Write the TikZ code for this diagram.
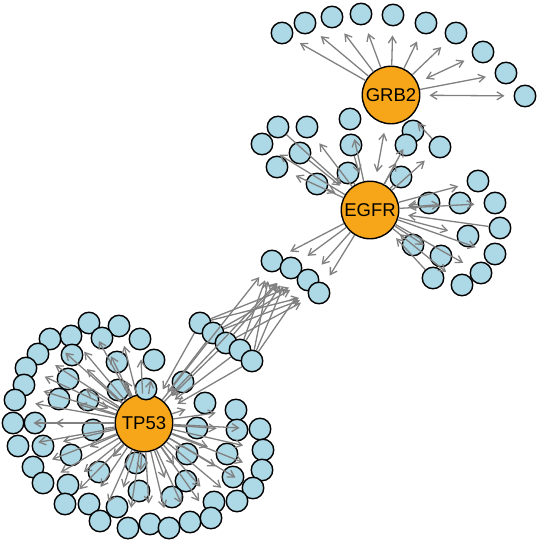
\documentclass[tikz,border=0pt]{standalone}
\usepackage{fontspec}
\setmainfont{Liberation Sans}
\usetikzlibrary{arrows.meta}
\definecolor{leafblue}{RGB}{173,216,230}
\definecolor{hubor}{RGB}{247,166,26}
\definecolor{edgegray}{RGB}{128,128,128}
\begin{document}
\begin{tikzpicture}[x=1pt,y=-1pt,
  leaf/.style={circle,draw=black,fill=leafblue,line width=1.4pt,minimum size=21.5pt,inner sep=0pt},
  hub/.style={circle,draw=black,fill=hubor,line width=1.4pt,minimum size=57.5pt,inner sep=0pt,font=\fontsize{18.5}{20}\selectfont},
  edge/.style={draw=edgegray,line width=1.3pt,shorten >=9pt,-{Straight Barb[length=6.5pt,width=8pt]}},
  dedge/.style={draw=edgegray,line width=1.3pt,shorten >=9pt,shorten <=9pt,{Straight Barb[length=6.5pt,width=8pt]}-{Straight Barb[length=6.5pt,width=8pt]}},
  pedge/.style={draw=edgegray,line width=1.3pt}]
\useasboundingbox (0,0) rectangle (538,542);
% hubs
\node[hub] (GRB2) at (391,95) {GRB2};
\node[hub] (EGFR) at (370,210) {EGFR};
\node[hub] (TP53) at (144,423) {TP53};
% GRB2 leaves
\foreach \n/\x/\y in {g1/282/33,g2/305/23,g3/332/17,g4/361/14,g5/393/15,g6/426/23,g7/456/33,g8/483/52,g9/506/73,g10/525/96}
  \node[leaf] (\n) at (\x,\y) {};
% EGFR leaves
\foreach \n/\x/\y in {e1/278/127,e2/307/127,e3/350/119,e4/262/144,e5/300/153,e6/351/145,e7/277/167,e8/317/184,e9/348/173,e10/413/131,e11/406/145,e12/440/147,e13/401/177,e14/478/181,e15/429/203,e16/460/203,e17/495/203,e18/500/228,e19/468/236,e20/413/245,e21/441/256,e22/495/254,e23/481/273,e24/433/278,e25/462/285}
  \node[leaf] (\n) at (\x,\y) {};
% middle and chain
\foreach \n/\x/\y in {m1/272/261,m2/291/268,m3/308/280,m4/319/293,c1/200/323,c2/213/333,c3/226/343,c4/240/350,c5/252/361}
  \node[leaf] (\n) at (\x,\y) {};
% TP53 leaves
\foreach \n/\x/\y in {t1/89/323,t2/119/326,t3/71/336,t4/102/338,t5/50/339,t6/140/339,t7/72/355,t8/38/354,t9/117/362,t10/154/360,t11/26/368,t12/68/379,t13/24/385,t14/118/390,t15/146/389,t16/183/382,t17/59/399,t18/88/400,t19/15/400,t20/205/403,t21/13/423,t22/35/423,t23/93/430,t24/236/410,t25/197/428,t26/260/429,t27/237/430,t28/43/446,t29/18/446,t30/263/450,t31/71/455,t32/187/454,t33/227/454,t34/136/463,t35/33/467,t36/99/472,t37/262/470,t38/233/477,t39/186/481,t40/43/483,t41/253/488,t42/139/491,t43/68/485,t44/172/497,t45/237/501,t46/65/504,t47/89/504,t48/117/507,t49/214/502,t50/100/521,t51/128/528,t52/150/524,t53/169/528,t54/190/522,t55/211/518}
  \node[leaf] (\n) at (\x,\y) {};
% GRB2 edges
\foreach \n in {g1,g2,g3,g4,g5,g6,g7,g9}
  \draw[edge] (GRB2) -- (\n);
\draw[dedge] (GRB2) -- (g8);
\draw[dedge] (GRB2) -- (g10);
\draw[dedge] (EGFR) -- (GRB2);
\draw[edge] (e12) -- (GRB2);
% EGFR edges
\foreach \n in {e2,e3,e4,e7,e10,e11,e12,e14,e17,e19,e21,e22,e23,e25,m1,m2,m3,m4}
  \draw[edge] (EGFR) -- (\n);
\draw[dedge] (EGFR) -- (e16);
\foreach \n in {e1,e5,e6,e8,e15,e18,e20,e24}
  \draw[edge] (\n) -- (EGFR);
\draw[pedge] (e9) -- (EGFR);
\draw[pedge] (e13) -- (EGFR);
% chain edges
\foreach \n in {c1,c2,c3,c4,c5}
  \draw[edge] (\n) -- (TP53);
\foreach \a/\b in {c1/m3,c1/m4,c2/m3,c2/m4,c3/m2,c3/m4,c4/m1,c4/m2,c5/m1,c5/m2,c5/m3}
  \draw[edge] (\a) -- (\b);
\draw[edge] (TP53) -- (m1);
\draw[edge] (TP53) -- (m2);
% TP53 edges
\foreach \n in {t1,t2,t3,t4,t5,t6,t7,t8,t9,t10,t11,t12,t13,t17,t19,t20,t21,t22,t24,t26,t27,t28,t29,t30,t31,t33,t35,t36,t37,t38,t39,t40,t41,t42,t43,t44,t45,t46,t47,t48,t49,t50,t51,t52,t53,t54,t55}
  \draw[edge] (TP53) -- (\n);
\foreach \n in {t16,t18,t32}
  \draw[edge] (\n) -- (TP53);
\foreach \n in {t14,t23,t25,t34}
  \draw[pedge] (TP53) -- (\n);
\end{tikzpicture}
\end{document}
